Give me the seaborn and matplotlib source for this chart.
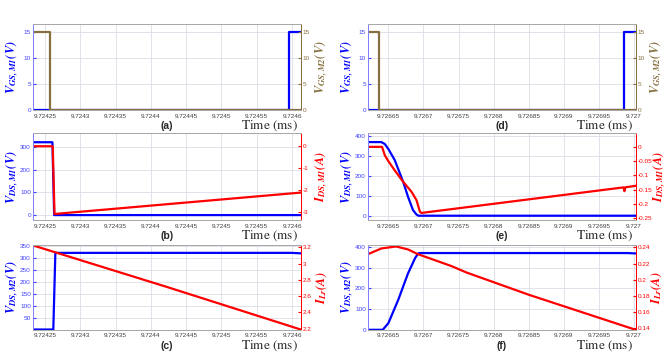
import matplotlib
matplotlib.use("Agg")
import matplotlib.pyplot as plt
import seaborn as sns
from matplotlib.ticker import FixedLocator, FuncFormatter

sns.set_style("white")
plt.rcParams["mathtext.fontset"] = "stix"
plt.rcParams["axes.unicode_minus"] = False
plt.rcParams["font.family"] = ["Liberation Sans", "DejaVu Sans"]

BLUE = "#0000FF"
RED = "#FF0000"
OLIVE = "#86703F"

# time windows (ms)
t_left_win = (9.724233, 9.7246127)
t_right_win = (9.726621, 9.7270028)
ticks_left = [9.72425, 9.7243, 9.72435, 9.7244, 9.72445, 9.7245, 9.72455, 9.7246]
ticks_right = [9.72665, 9.7267, 9.72675, 9.7268, 9.72685, 9.7269, 9.72695, 9.727]

# (a) gate signals
ta_m1 = [9.724233, 9.724596, 9.724596, 9.7246127]
va_m1 = [0, 0, 15, 15]
ta_m2 = [9.724233, 9.724257, 9.724257, 9.7246127]
va_m2 = [15, 15, 0, 0]

# (b) VDS,M1 / IDS,M1
tb_v = [9.724233, 9.7242605, 9.724263, 9.7246127]
vb = [320, 320, 0, 0]
tb_i = [9.724233, 9.724261, 9.7242635, 9.7246127]
ib = [0, 0, -3.1, -2.12]

# (c) VDS,M2 / ILr
tc_v = [9.724233, 9.7242618, 9.7242647, 9.72460, 9.7246127]
vc = [2, 2, 320, 320, 318]
tc_i = [9.724233, 9.724423, 9.7246127]
ic = [3.222, 2.712, 2.19]

# (d) gate signals
td_m1 = [9.726621, 9.726986, 9.726986, 9.7270028]
vd_m1 = [0, 0, 15, 15]
td_m2 = [9.726621, 9.726637, 9.726637, 9.7270028]
vd_m2 = [15, 15, 0, 0]

# (e) VDS,M1 / IDS,M1 zoomed
te_v = [9.726621, 9.726640, 9.726645, 9.72665, 9.726659, 9.726671, 9.726678,
        9.726685, 9.72669, 9.726693, 9.7270028]
ve = [370, 370, 360, 335, 280, 171, 95, 29, 6, 0, 0]
te_i = [9.726621, 9.726641, 9.726645, 9.72665, 9.726659, 9.726671, 9.726683,
        9.72669, 9.726695, 9.726697, 9.726985, 9.7269862, 9.7269875, 9.7270028]
ie = [0, 0, -0.03, -0.05, -0.082, -0.122, -0.157, -0.186, -0.227, -0.231,
      -0.1416, -0.155, -0.1414, -0.136]

# (f) VDS,M2 / ILr zoomed
tf_v = [9.726621, 9.726642, 9.72665, 9.726664, 9.726678, 9.726688, 9.726692,
        9.726694, 9.72699, 9.7270028]
vf = [0, 0, 32, 144, 272, 345, 366, 370, 370, 368]
tf_i = [9.726621, 9.72664, 9.726661, 9.726678, 9.726692, 9.726716, 9.72674,
        9.726761, 9.72685, 9.7270028]
if_ = [0.2317, 0.2387, 0.2412, 0.2375, 0.2317, 0.2243, 0.2169, 0.2091, 0.1815, 0.138]

fig = plt.figure(figsize=(6.69, 3.55), dpi=100)

W = 0.4006
cols = [0.0493, 0.5501]
rows = [(0.690, 0.242), (0.380, 0.245), (0.0704, 0.239)]


def fmt_t(v, pos):
    return ("%.5f" % v).rstrip("0").rstrip(".")


def fmt_g(v, pos):
    return "%g" % round(v, 4)


def panel(col, row, t1, y1, t2, y2, c2, lim1, lim2, yt1, yt2, lab1, lab2, tag,
          rlab_x=1.077):
    x0 = cols[col]
    b, h = rows[row]
    ax = fig.add_axes([x0, b, W, h])
    ax2 = ax.twinx()
    win = t_left_win if col == 0 else t_right_win
    ticks = ticks_left if col == 0 else ticks_right
    sns.lineplot(x=t1, y=y1, ax=ax, color=BLUE, lw=1.6, estimator=None, sort=False)
    sns.lineplot(x=t2, y=y2, ax=ax2, color=c2, lw=1.6, estimator=None, sort=False)
    ax.set_xlim(win)
    ax.set_ylim(lim1)
    ax2.set_ylim(lim2)
    ax.xaxis.set_major_locator(FixedLocator(ticks))
    ax.xaxis.set_major_formatter(FuncFormatter(fmt_t))
    ax.yaxis.set_major_locator(FixedLocator(yt1))
    ax.yaxis.set_major_formatter(FuncFormatter(fmt_g))
    ax2.yaxis.set_major_locator(FixedLocator(yt2))
    ax2.yaxis.set_major_formatter(FuncFormatter(fmt_g))
    ax.grid(True, color="#dcdde6", lw=0.6)
    ax.set_axisbelow(True)
    ax.tick_params(axis="x", labelsize=4.6, colors="#404040", direction="in",
                   length=2, pad=2.5)
    ax.tick_params(axis="y", labelsize=4.6, colors="#4040ff", direction="in",
                   length=2, pad=1.5)
    ax2.tick_params(axis="y", labelsize=4.6, colors=c2, direction="in",
                    length=2, pad=1)
    for a in (ax, ax2):
        a.spines["top"].set_color("#a8a8a8")
        a.spines["bottom"].set_color("#a8a8a8")
        a.spines["left"].set_color("#8080ff")
        a.spines["right"].set_color(c2)
        for s in a.spines.values():
            s.set_linewidth(0.7)
    ax.set_xlabel("")
    ax.set_ylabel(lab1, color=BLUE, fontsize=9)
    ax2.set_ylabel(lab2, color=c2, fontsize=9, rotation=90)
    for lab in (ax.yaxis.label, ax2.yaxis.label):
        lab.set_rotation_mode("anchor")
        lab.set_ha("center")
        lab.set_va("center")
    ax.yaxis.set_label_coords(-0.076, 0.5)
    ax2.yaxis.set_label_coords(rlab_x, 0.5)
    xc = x0 + W / 2
    xr = x0 + W - 0.004
    yb = b - 0.044
    fig.text(xc, yb, tag, ha="center", va="center", fontsize=7.5, fontweight="bold")
    fig.text(xr, yb, r"$\mathrm{Time\ (ms)}$", ha="right", va="center", fontsize=9.5)
    return ax, ax2


panel(0, 0, ta_m1, va_m1, ta_m2, va_m2, OLIVE, (0, 16.5), (0, 16.5),
      [0, 5, 10, 15], [0, 5, 10, 15],
      r"$\mathbfit{V_{GS,M1}(V)}$", r"$\mathbfit{V_{GS,M2}(V)}$", "(a)")
panel(0, 1, tb_v, vb, tb_i, ib, RED, (-22, 360), (-3.38, 0.6),
      [0, 100, 200, 300], [-3, -2, -1, 0],
      r"$\mathbfit{V_{DS,M1}(V)}$", r"$\mathbfit{I_{DS,M1}(A)}$", "(b)")
panel(0, 2, tc_v, vc, tc_i, ic, RED, (0, 352), (2.185, 3.225),
      [50, 100, 150, 200, 250, 300, 350], [2.2, 2.4, 2.6, 2.8, 3.0, 3.2],
      r"$\mathbfit{V_{DS,M2}(V)}$", r"$\mathbfit{I_{Lr}(A)}$", "(c)")
panel(1, 0, td_m1, vd_m1, td_m2, vd_m2, OLIVE, (0, 16.5), (0, 16.5),
      [0, 5, 10, 15], [0, 5, 10, 15],
      r"$\mathbfit{V_{GS,M1}(V)}$", r"$\mathbfit{V_{GS,M2}(V)}$", "(d)")
panel(1, 1, te_v, ve, te_i, ie, RED, (-22, 415), (-0.256, 0.048),
      [0, 100, 200, 300, 400], [-0.25, -0.2, -0.15, -0.1, -0.05, 0],
      r"$\mathbfit{V_{DS,M1}(V)}$", r"$\mathbfit{I_{DS,M1}(A)}$", "(e)",
      rlab_x=1.09)
panel(1, 2, tf_v, vf, tf_i, if_, RED, (-1, 408), (0.1379, 0.2428),
      [0, 100, 200, 300, 400], [0.14, 0.16, 0.18, 0.2, 0.22, 0.24],
      r"$\mathbfit{V_{DS,M2}(V)}$", r"$\mathbfit{I_{Lr}(A)}$", "(f)")

fig.savefig("out.png", dpi=100)
